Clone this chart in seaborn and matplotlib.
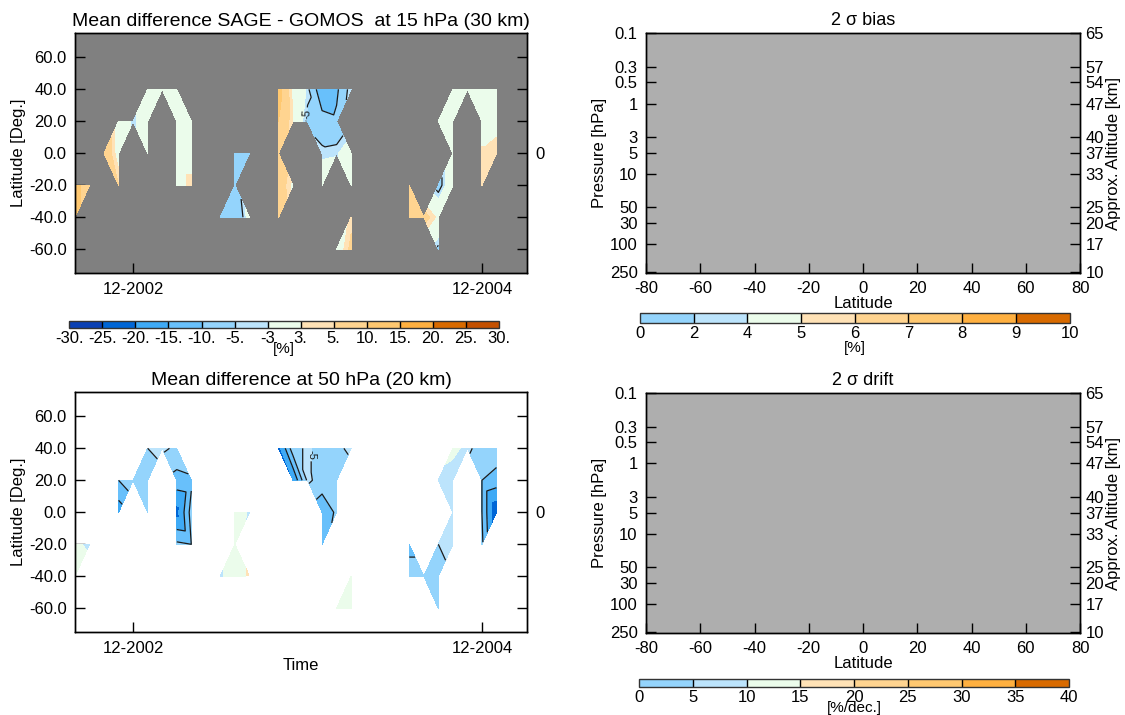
import numpy as np
import matplotlib
matplotlib.use('Agg')
import matplotlib.pyplot as plt
import matplotlib.tri as mtri
from matplotlib.colors import ListedColormap, BoundaryNorm
from matplotlib.cm import ScalarMappable
from matplotlib.ticker import NullLocator
import seaborn as sns

# ---- data: monthly zonal means (month 0 = Jan 2002), latitude, SAGE-GOMOS difference [%]
# 15 hPa (30 km)
months_15 = [7, 8, 7,
             9, 10, 10, 10,
             11, 12, 12, 12, 13,
             14, 14, 15, 14, 15, 14, 15,
             18, 19, 18, 17, 18, 19,
             21, 22, 23, 24, 25, 26,
             21, 22, 23, 24, 25,
             21, 24, 25, 26,
             21, 22, 24, 26,
             21, 26, 25, 26,
             30, 30, 31, 32, 32, 32, 33, 33,
             32, 33, 33, 34, 35, 36, 35, 36, 35, 36, 35]
lats_15 = [-20, -20, -40,
           0, 20, 0, -20,
           20, 40, 20, 0, 40,
           40, 20, 20, 0, 0, -20, -20,
           0, 0, -20, -40, -40, -40,
           40, 40, 40, 40, 40, 40,
           20, 20, 20, 20, 20,
           0, 0, 0, 0,
           -20, -20, -20, -20,
           -40, -40, -60, -60,
           -20, -40, -40, -40, -60, -20, -20, 0,
           20, 20, 40, 40, 40, 40, 20, 20, 0, 0, -20]
diff_15 = [12, 7, 12,
           9, 1, 1, 5,
           -4, 1, 0, 1, 1,
           1, 1, 1, 1, 1, 1, 4,
           -8, -6, -8, -7, -10, -1,
           12, 2, -4, -14, -11, -3,
           10, 3, -6, -8, -9,
           10, -4, -3.5, 0,
           8, 2, 1, 1,
           9, 4, 0, 6,
           10, 10, 7, 2, -6, -7, 1, 1,
           1, 1, 1, 1, 1, 1, 1, 1, 3.5, 5, 5]

# 50 hPa (20 km)
months_50 = [7, 8, 7,
             10, 10, 11,
             12, 12, 12, 13,
             14, 14, 15, 14, 15, 14, 15,
             18, 19, 18, 17, 18, 19,
             21, 22, 23, 24, 25, 26,
             22, 23, 24, 25,
             24, 25, 24,
             25, 26, 26,
             30, 30, 31, 32, 32, 32, 33, 33,
             32, 33, 33, 34, 35, 36, 35, 36, 35, 36, 35]
lats_50 = [-20, -20, -40,
           20, 0, 20,
           40, 20, 0, 40,
           40, 20, 20, 0, 0, -20, -20,
           0, 0, -20, -40, -40, -40,
           40, 40, 40, 40, 40, 40,
           20, 20, 20, 20,
           0, 0, -20,
           -60, -60, -40,
           -20, -40, -40, -40, -60, -20, -20, 0,
           20, 20, 40, 40, 40, 40, 20, 20, 0, 0, -20]
diff_50 = [-2, -4, 1,
           -10, -18, -6,
           -5, -7, -9, -4,
           -6, -12, -11, -22, -8, -9, -10,
           1, -4, 0, -4, 0, 4,
           -22, -7, -4, -8, -6, -4,
           -20, -4, -7, -9,
           -14, -9, -12,
           1, 1, 1,
           -12, -7, -7, -6, -7, -5, -4, -4,
           -4, -5, -2, -4, -7, -7, -10, -12, -10, -25, -9]

time_ticks = [11, 35]
time_labels = ['12-2002', '12-2004']
lat_ticks = [-60, -40, -20, 0, 20, 40, 60]
lat_labels = ['-60.0', '-40.0', '-20.0', '0.0', '20.0', '40.0', '60.0']

diff_levels = [-30, -25, -20, -15, -10, -5, -3, 3, 5, 10, 15, 20, 25, 30]
diff_level_labels = ['-30.', '-25.', '-20.', '-15.', '-10.', '-5.', '-3', '3.', '5.',
                     '10.', '15.', '20.', '25.', '30.']
diff_colors = ['#0A40B4', '#0066D6', '#3EAAF6', '#68C0FB', '#94D4FC', '#BCE4FC',
               '#EBFCEB', '#FFE2B6', '#FFD490', '#FFC870', '#FFB040', '#D86A00', '#C45000']

bias_levels = [0, 2, 4, 5, 6, 7, 8, 9, 10]
drift_levels = [0, 5, 10, 15, 20, 25, 30, 35, 40]
sigma_colors = ['#94D4FC', '#BCE4FC', '#EBFCEB', '#FFE2B6', '#FFD490', '#FFC870', '#FFB040', '#D86A00']

lat_axis_ticks = [-80, -60, -40, -20, 0, 20, 40, 60, 80]
p_ticks = [0.1, 0.3, 0.5, 1, 3, 5, 10, 30, 50, 100, 250]
p_labels = ['0.1', '0.3', '0.5', '1', '3', '5', '10', '50', '30', '100', '250']
alt_labels = ['65', '57', '54', '47', '40', '37', '33', '25', '20', '17', '10']

sns.set_theme(style='ticks')
plt.rcParams['font.family'] = ['Liberation Sans', 'DejaVu Sans']
plt.rcParams['axes.linewidth'] = 1.0
plt.rcParams['axes.edgecolor'] = 'black'
plt.rcParams['text.color'] = 'black'
plt.rcParams['axes.labelcolor'] = 'black'
plt.rcParams['xtick.color'] = 'black'
plt.rcParams['ytick.color'] = 'black'
plt.rcParams['contour.negative_linestyle'] = 'solid'

diff_cmap = ListedColormap(sns.color_palette(diff_colors))
diff_norm = BoundaryNorm(diff_levels, diff_cmap.N)
sig_cmap = ListedColormap(sns.color_palette(sigma_colors))

fig = plt.figure(figsize=(11.25, 7.15), dpi=100)
W, H = 1125.0, 715.0


def box(left, top, right, bottom):
    return [left / W, 1 - bottom / H, (right - left) / W, (bottom - top) / H]


def style_ticks(ax):
    ax.tick_params(direction='in', length=7, width=1, labelsize=12, colors='black',
                   top=True, right=True, pad=6)


def diff_panel(rect, months, lats, vals, bg, title, label_pos, xlabel=None):
    ax = fig.add_axes(rect)
    x = np.array(months, float)
    y = np.array(lats, float)
    z = np.array(vals, float)
    # triangulate on the regular month x 20-degree grid, drop triangles spanning gaps
    base = mtri.Triangulation(x, y / 20.0)
    pts = np.column_stack([x, y / 20.0])
    t = base.triangles
    edge = np.max([np.linalg.norm(pts[t[:, i]] - pts[t[:, (i + 1) % 3]], axis=1)
                   for i in range(3)], axis=0)
    tri = mtri.Triangulation(x, y, triangles=t, mask=edge > 1.5)
    ax.set_facecolor(bg)
    ax.tricontourf(tri, z, levels=diff_levels, cmap=diff_cmap, norm=diff_norm)
    ax.tricontour(tri, z, levels=[-15, -10], colors='k', linewidths=0.9,
                  linestyles='solid')
    cs5 = ax.tricontour(tri, z, levels=[-5], colors='k', linewidths=0.9,
                        linestyles='solid')
    ax.clabel(cs5, fmt='%d', manual=[label_pos], fontsize=8, inline=True)
    ax.set_xlim(7, 38.1)
    ax.set_ylim(-75, 75)
    ax.set_xticks(time_ticks, time_labels)
    ax.set_yticks(lat_ticks, lat_labels)
    style_ticks(ax)
    ax.tick_params(top=False, right=False)
    ax.set_ylabel('Latitude [Deg.]', fontsize=12, labelpad=2)
    if xlabel:
        ax.set_xlabel(xlabel, fontsize=12, labelpad=2)
    ax.set_title(title, fontsize=14, pad=5)
    ax2 = ax.twinx()
    ax2.set_ylim(-75, 75)
    ax2.set_yticks(lat_ticks, ['', '', '', '0', '', '', ''])
    ax2.tick_params(direction='in', length=7, width=1, labelsize=12, pad=6)
    return ax


def sigma_panel(rect, title):
    ax = fig.add_axes(rect)
    ax.set_facecolor('#AEAEAE')
    ax.set_xlim(-80, 80)
    ax.set_yscale('log')
    ax.set_ylim(257, 0.1)
    ax.set_xticks(lat_axis_ticks, [str(v) for v in lat_axis_ticks])
    ax.set_yticks(p_ticks, p_labels)
    ax.yaxis.set_minor_locator(NullLocator())
    style_ticks(ax)
    ax.tick_params(top=False, right=False)
    ax.set_xlabel('Latitude', fontsize=12, labelpad=0)
    ax.set_ylabel('Pressure [hPa]', fontsize=12, labelpad=2)
    ax.set_title(title, fontsize=13, pad=6)
    ax2 = ax.twinx()
    ax2.set_yscale('log')
    ax2.set_ylim(257, 0.1)
    ax2.set_yticks(p_ticks, alt_labels)
    ax2.yaxis.set_minor_locator(NullLocator())
    ax2.tick_params(direction='in', length=7, width=1, labelsize=12, pad=4)
    ax2.set_ylabel('Approx. Altitude [km]', fontsize=12, labelpad=1)
    return ax


def colorbar(rect, cmap, levels, labels, unit, pad):
    cax = fig.add_axes(rect)
    norm = BoundaryNorm(levels, cmap.N)
    cb = fig.colorbar(ScalarMappable(norm=norm, cmap=cmap), cax=cax,
                      orientation='horizontal', drawedges=True)
    cb.set_ticks(levels, labels=labels)
    cb.ax.tick_params(length=0, labelsize=12, pad=2)
    cb.outline.set_edgecolor('#333333')
    cb.outline.set_linewidth(1)
    cb.dividers.set_color('black')
    cb.dividers.set_linewidth(1)
    cb.set_label(unit, fontsize=11, labelpad=pad)
    return cb


diff_panel(box(75, 33.3, 527, 273.3), months_15, lats_15, diff_15, '#808080',
           'Mean difference SAGE - GOMOS  at 15 hPa (30 km)', (24.1, 24))
diff_panel(box(75, 392.3, 527, 632.3), months_50, lats_50, diff_50, 'white',
           'Mean difference at 50 hPa (20 km)', (23, 36), xlabel='Time')
colorbar(box(69.3, 321, 499, 328.3), diff_cmap, diff_levels, diff_level_labels, '[%]', -3)

sigma_panel(box(646, 33.3, 1080, 272.7), '2 σ bias')
colorbar(box(639.8, 312.7, 1069.6, 323.3), sig_cmap, bias_levels,
         [str(v) for v in bias_levels], '[%]', 0)
sigma_panel(box(646, 393, 1080, 633), '2 σ drift')
colorbar(box(639.3, 679, 1069, 687.3), sig_cmap, drift_levels,
         [str(v) for v in drift_levels], '[%/dec.]', -3)

fig.savefig('out.png', dpi=100)
